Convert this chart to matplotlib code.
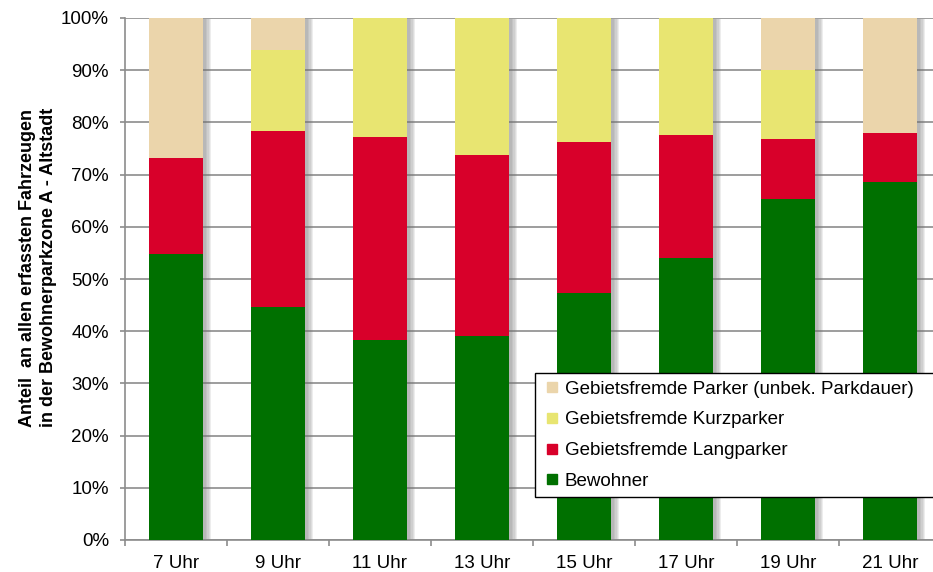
import matplotlib
matplotlib.use("Agg")
import matplotlib.pyplot as plt
import matplotlib.patheffects as pe
import numpy as np
from matplotlib.lines import Line2D
from matplotlib.ticker import PercentFormatter

plt.rcParams['font.family'] = ['Liberation Sans', 'DejaVu Sans']

# Anteile in % je Uhrzeit
uhrzeiten = ['7 Uhr', '9 Uhr', '11 Uhr', '13 Uhr', '15 Uhr', '17 Uhr', '19 Uhr', '21 Uhr']
bewohner = [54.8, 44.6, 38.3, 39.1, 47.3, 54.0, 65.3, 68.6]
langparker = [18.4, 33.8, 38.9, 34.7, 28.9, 23.6, 11.5, 9.4]
kurzparker = [0.0, 15.5, 22.8, 26.2, 23.8, 22.4, 13.2, 0.0]
unbekannt = [26.8, 6.1, 0.0, 0.0, 0.0, 0.0, 10.0, 22.0]

serien = [
    ('Bewohner', bewohner, '#007000'),
    ('Gebietsfremde Langparker', langparker, '#D8002A'),
    ('Gebietsfremde Kurzparker', kurzparker, '#E8E571'),
    ('Gebietsfremde Parker (unbek. Parkdauer)', unbekannt, '#EBD5AB'),
]

fig = plt.figure(figsize=(9.33, 5.72), dpi=100)
ax = fig.add_axes([125 / 933, 32 / 572, 816 / 933, 522 / 572])

x = np.arange(len(uhrzeiten))
breite = 0.53

# Schatten hinter den kompletten Saeulen
total = np.sum([s[1] for s in serien], axis=0)
schatten = [pe.SimplePatchShadow(offset=(o, -1), shadow_rgbFace='#707070', alpha=0.12)
            for o in (2, 3, 4, 5, 6)]
for b in ax.bar(x, total, breite, color='white', zorder=2.5):
    b.set_path_effects(schatten)

bottom = np.zeros(len(uhrzeiten))
for name, vals, col in serien:
    vals = np.array(vals)
    ax.bar(x, vals, breite, bottom=bottom, color=col, zorder=3)
    bottom += vals

ax.set_xlim(-0.5, len(uhrzeiten) - 0.5)
ax.set_ylim(0, 100)
ax.set_yticks(np.arange(0, 101, 10))
ax.yaxis.set_major_formatter(PercentFormatter(decimals=0))
ax.yaxis.grid(True, color='#8c8c8c', linewidth=1.2, zorder=0)
ax.set_axisbelow(True)

ax.set_xticks(x)
ax.set_xticklabels(uhrzeiten)
ax.set_xticks(np.arange(-0.5, len(uhrzeiten)), minor=True)
ax.tick_params(axis='x', which='major', length=0, pad=11, labelsize=13.5)
ax.tick_params(axis='x', which='minor', length=4.5, color='#8c8c8c', width=1.2)
ax.tick_params(axis='y', length=3.6, color='#8c8c8c', width=1.2, labelsize=13.5, pad=8)

for s in ['top', 'right']:
    ax.spines[s].set_visible(False)
for s in ['left', 'bottom']:
    ax.spines[s].set_color('#8c8c8c')
    ax.spines[s].set_linewidth(1.2)

ax.set_ylabel('Anteil  an allen erfassten Fahrzeugen\nin der Bewohnerparkzone A - Altstadt',
              fontsize=13, fontweight='bold', linespacing=1.3)
ax.yaxis.set_label_coords(-0.083, 0.522)

handles = [Line2D([], [], linestyle='none', marker='s', markersize=6.5,
                  markerfacecolor=col, markeredgecolor=col) for _, _, col in serien][::-1]
labels = [s[0] for s in serien][::-1]
leg = ax.legend(handles, labels, loc='lower left', mode='expand',
                bbox_to_anchor=(0.502, 0.082, 0.52, 0.234),
                fontsize=13.5, frameon=True, fancybox=False, framealpha=1,
                edgecolor='black', handlelength=1.0, handletextpad=0.2,
                labelspacing=0.72, borderpad=0.4, borderaxespad=0)
leg.get_frame().set_linewidth(1.0)
leg.set_zorder(5)

fig.savefig('out.png', dpi=100)
